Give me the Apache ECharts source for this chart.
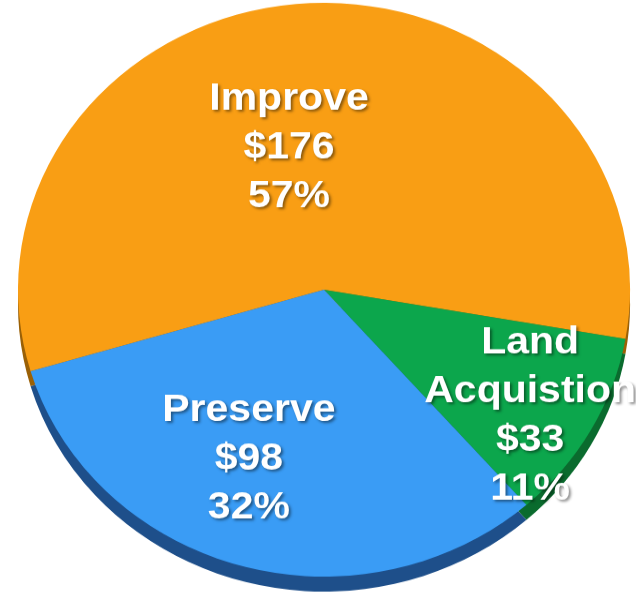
<!DOCTYPE html>
<html>
<head>
<meta charset="utf-8">
<script src="https://cdn.jsdelivr.net/npm/echarts@6/dist/echarts.min.js"></script>
<style>
html,body{margin:0;padding:0;background:#fff;overflow:hidden;width:636px;height:600px;}
/* the slide pie was tilted, so squash the chart a little to get the ellipse */
#chart{width:636px;height:640px;transform:scaleY(0.9375);transform-origin:0 0;}
</style>
</head>
<body>
<div id="chart"></div>
<script>
// 数据
var names = ['Improve', 'Land\nAcquistion', 'Preserve'];
var values = [176, 33, 98];
var percents = ['57%', '11%', '32%'];

var faceColors = ['#F99E14', '#0CA64C', '#3A9CF5'];
var edgeColors = ['#9A6006', '#0A6B2E', '#1E4F8A'];
// label nudges so text sits where the slide had it
var labelOffsets = [[-26, 4], [70, 59], [-32, 31]];

var dom = document.getElementById('chart');
var myChart = echarts.init(dom);

var faceData = names.map(function(n, i){
	return {
		name: n,
		value: values[i],
		itemStyle: {color: faceColors[i]},
		label: {offset: labelOffsets[i]}
	};
});
var edgeData = names.map(function(n, i){
	return {name: n, value: values[i], itemStyle: {color: edgeColors[i]}};
});

var option = {
	animation: false,
	series: [
		{
			// 3D edge underneath
			type: 'pie',
			center: [324, 325],
			radius: 306,
			startAngle: 196.5,
			clockwise: true,
			silent: true,
			label: {show: false},
			labelLine: {show: false},
			data: edgeData,
			z: 1
		},
		{
			type: 'pie',
			center: [324, 309],
			radius: 306,
			startAngle: 196.5,
			clockwise: true,
			z: 2,
			itemStyle: {borderWidth: 0},
			label: {
				show: true,
				position: 'inside',
				color: '#fff',
				fontFamily: 'Liberation Sans, Arial, sans-serif',
				fontWeight: 'bold',
				fontSize: 41,
				lineHeight: 52,
				align: 'center',
				textShadowColor: 'rgba(0,0,0,0.45)',
				textShadowBlur: 3,
				textShadowOffsetX: 2,
				textShadowOffsetY: 2,
				formatter: function(p){
					return p.name + '\n$' + p.value + '\n' + percents[p.dataIndex];
				}
			},
			labelLine: {show: false},
			data: faceData
		}
	]
};
myChart.setOption(option, true);
</script>
</body>
</html>
